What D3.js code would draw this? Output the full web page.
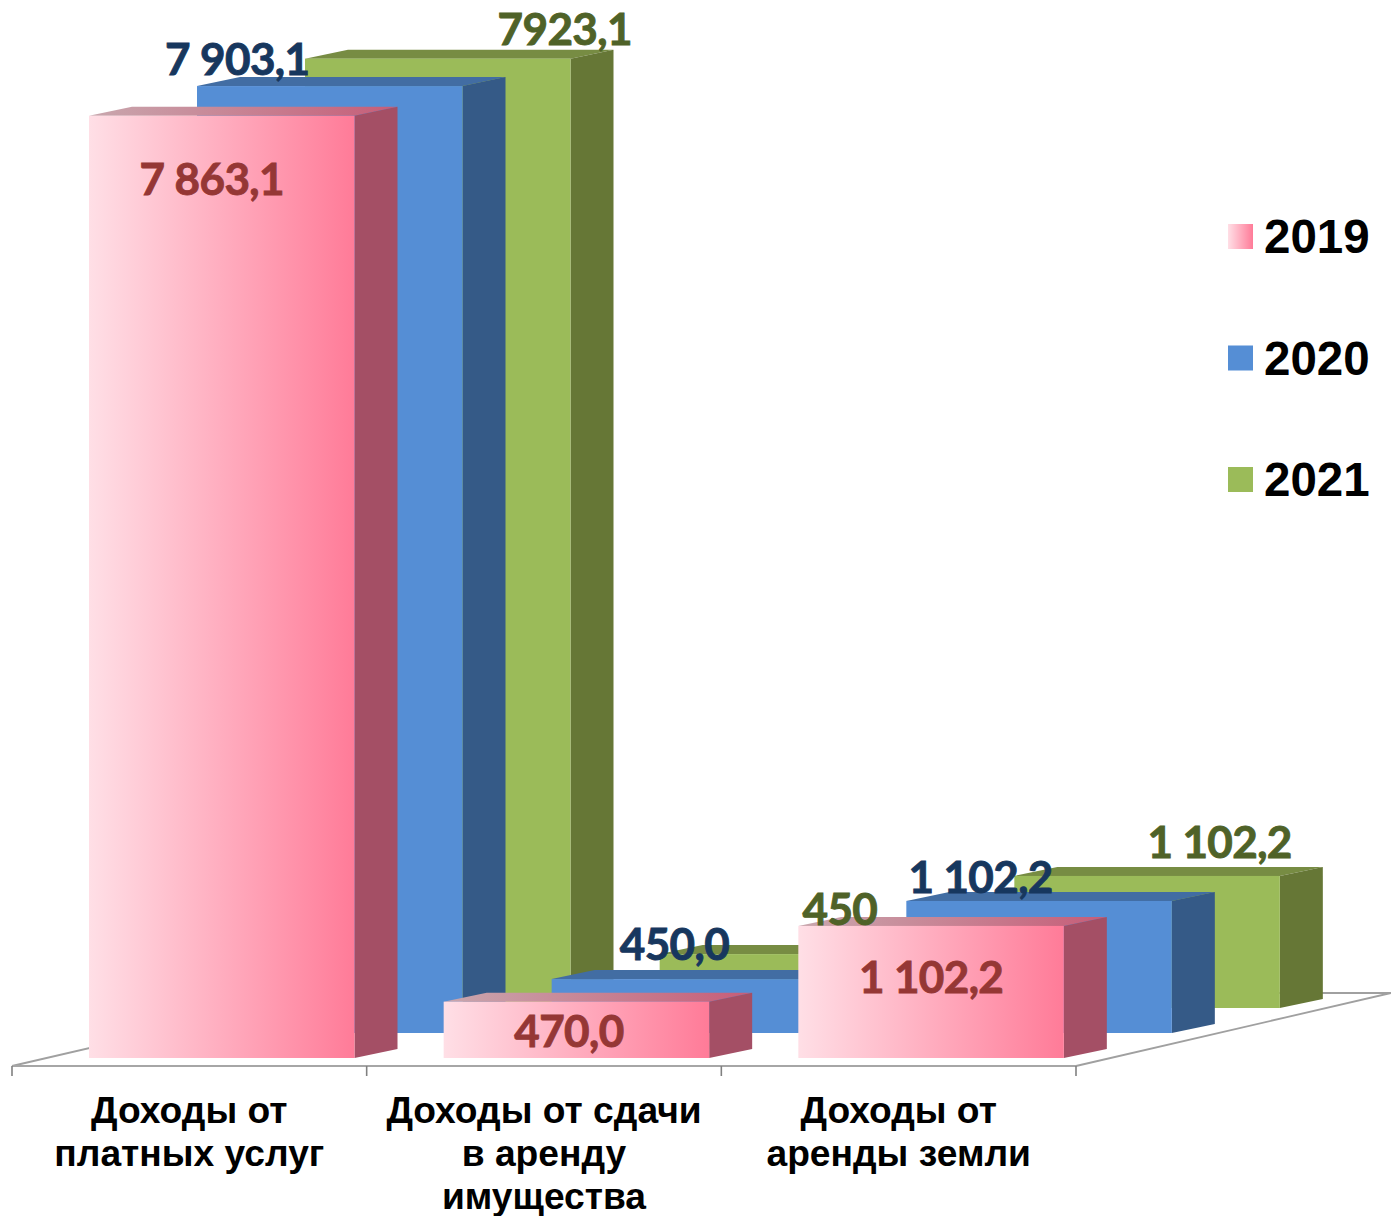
<!DOCTYPE html>
<html><head><meta charset="utf-8">
<style>html,body{margin:0;padding:0;background:#fff;overflow:hidden}svg{display:block}</style>
<script src="https://cdn.jsdelivr.net/npm/d3@7"></script>
</head><body><svg id="c" width="1391" height="1216"></svg>
<script>
const categories = [["Доходы от","платных услуг"],["Доходы от сдачи","в аренду","имущества"],["Доходы от","аренды земли"]];
const seriesNames = ["2019","2020","2021"];
const values2019 = [7863.1,470.0,1102.2];
const values2020 = [7903.1,450.0,1102.2];
const values2021 = [7923.1,450.0,1102.2];
const labels2019 = ["7 863,1","470,0","1 102,2"];
const labels2020 = ["7 903,1","450,0","1 102,2"];
const labels2021 = ["7923,1","450","1 102,2"];

// layout
const W=1391,H=1216;
const floorY=1066, tickLen=10;
const base=1058, unit=0.11982;
const barW=265.5, barInset=77;
const depth={dx:43,dy:-9};
const stepSeries={dx:108,dy:-25};
// hand-placed label offsets from each bar's top centre, [category][series]
const labelNudge=[
 [[-10,79],[-92.5,-11],[127,-14]],
 [[-7.5,45],[-10,-19],[47.5,-29]],
 [[0,67],[-58.5,-8],[72.5,-18]]];
const styles=[
 {face:"url(#pinkFace)",side:"#a44f65",top:"url(#pinkTop)",text:"#953735"},
 {face:"#558ed5",side:"#355a87",top:"#426da3",text:"#17375e"},
 {face:"#9bbb59",side:"#667736",top:"#778c43",text:"#4f6228"}];

const svg=d3.select("#c");
const defs=svg.append("defs");
function grad(id,a,b){const g=defs.append("linearGradient").attr("id",id);
 g.append("stop").attr("offset",0).attr("stop-color",a);g.append("stop").attr("offset",1).attr("stop-color",b);}
grad("pinkFace","#ffdfe6","#ff7b98");grad("pinkTop","#c9a7ae","#c65d78");

const x=d3.scaleBand().domain(d3.range(categories.length)).range([12,1076]);
const y=d3.scaleLinear().domain([0,8000]).range([0,8000*unit]);
const sx=d3.scaleLinear().domain([0,1]).range([0,stepSeries.dx]);
const sy=d3.scaleLinear().domain([0,1]).range([0,stepSeries.dy]);

// floor
const fl=svg.append("g").attr("fill","none");
const bx=12+315,by=floorY-73;
fl.append("path").attr("d",d3.line()([[12,floorY],[bx,by],[W,by]])).attr("stroke","#a0a0a0").attr("stroke-width",1.8);
fl.append("path").attr("d",d3.line()([[1076,floorY],[W,by]])).attr("stroke","#a0a0a0").attr("stroke-width",1.8);
fl.append("path").attr("d",d3.line()([[12,floorY],[1076,floorY]])).attr("stroke","#a6a6a6").attr("stroke-width",2);
fl.selectAll("line.t").data(d3.range(categories.length+1)).join("line")
 .attr("x1",i=>12+i*x.step()).attr("x2",i=>12+i*x.step())
 .attr("y1",floorY).attr("y2",floorY+tickLen).attr("stroke","#808080").attr("stroke-width",1.6);

// bars: back series first
const series=[values2019,values2020,values2021];
const labels=[labels2019,labels2020,labels2021];
[2,1,0].forEach(s=>{
 const g=svg.append("g");const st=styles[s];
 series[s].forEach((v,c)=>{
  const x0=x(c)+barInset+sx(s), x1=x0+barW, b=base+sy(s), t=b-y(v);
  const pts=a=>a.map(p=>p.join(",")).join(" ");
  g.append("polygon").attr("points",pts([[x0,t],[x0+depth.dx,t+depth.dy],[x1+depth.dx,t+depth.dy],[x1,t]])).attr("fill",st.top);
  g.append("polygon").attr("points",pts([[x1,t],[x1+depth.dx,t+depth.dy],[x1+depth.dx,b+depth.dy],[x1,b]])).attr("fill",st.side);
  g.append("rect").attr("x",x0).attr("y",t).attr("width",barW).attr("height",b-t).attr("fill",st.face);
 });
});
// labels
const lg=svg.append("g").attr("font-family","Lato, 'Noto Sans', sans-serif").attr("font-weight",700).attr("font-size",44).attr("text-anchor","middle").attr("letter-spacing",-0.6);
[0,1,2].forEach(s=>series[s].forEach((v,c)=>{
  const x0=x(c)+barInset+sx(s), b=base+sy(s), t=b-y(v), n=labelNudge[c][s];
  lg.append("text").attr("x",x0+barW/2+n[0]).attr("y",t+n[1]).attr("fill",styles[s].text).attr("stroke",styles[s].text).attr("stroke-width",0.9).text(labels[s][c]);
}));
// categories
const cg=svg.append("g").attr("font-family","'Liberation Sans', Arial, sans-serif").attr("font-weight",700).attr("font-size",37.2).attr("text-anchor","middle").attr("fill","#000");
categories.forEach((lines,c)=>lines.forEach((l,i)=>{
  cg.append("text").attr("x",x(c)+x.bandwidth()/2).attr("y",1123+i*43).text(l);
}));
// legend
const leg=svg.append("g");
const ly=d3.scalePoint().domain(seriesNames).range([224,467]);
seriesNames.forEach((n,i)=>{
  leg.append("rect").attr("x",1228).attr("y",ly(n)).attr("width",25).attr("height",25).attr("fill",i==0?"url(#pinkFace)":styles[i].face);
  leg.append("text").attr("x",1264).attr("y",ly(n)+29).attr("font-family","'Liberation Sans', Arial, sans-serif").attr("font-weight",700).attr("font-size",47.5).attr("fill","#000").text(n);
});
</script></body></html>
